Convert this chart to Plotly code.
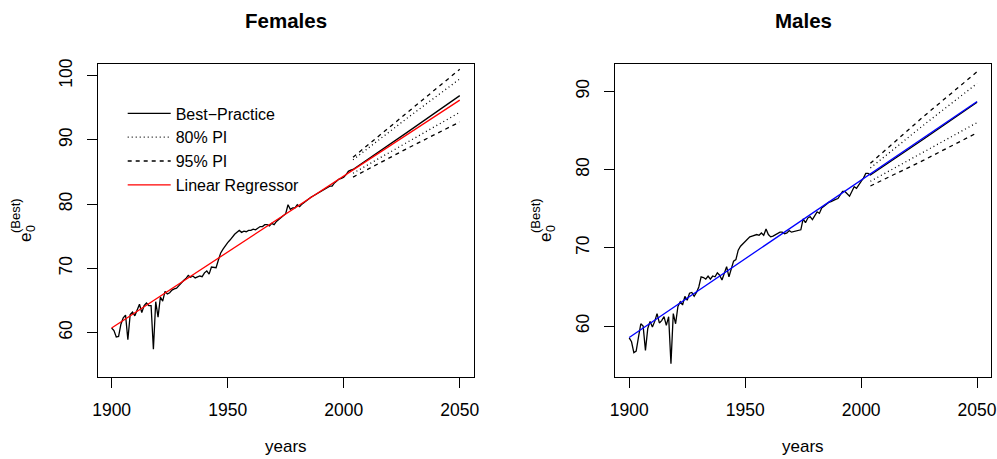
import plotly.graph_objects as go

# ---------------- data ----------------
years_hist = list(range(1900, 2004))

female_best = [
    60.7, 60.3, 59.3, 59.4, 61.3, 62.3, 62.7, 58.9, 62.8, 63.2,
    62.6, 63.5, 64.4, 63.1, 64.2, 64.6, 64.2, 64.2, 57.4, 64.8,
    62.4, 65.5, 64.9, 66.4, 66.0, 66.2, 66.6, 66.8, 66.9, 67.3,
    67.8, 68.1, 68.4, 68.9, 68.6, 68.8, 68.5, 68.6, 68.8, 68.7,
    69.3, 69.6, 69.1, 70.2, 70.1, 70.1, 71.3, 72.4, 73.0, 73.6,
    74.0, 74.4, 74.9, 75.3, 75.6, 75.9, 75.6, 75.8, 75.7, 75.9,
    75.9, 76.1, 76.0, 76.3, 76.5, 76.5, 76.8, 76.8, 76.6, 77.0,
    76.8, 77.3, 77.6, 77.8, 78.1, 78.5, 79.9, 79.2, 79.4, 79.4,
    79.9, 79.6, 80.0, 80.3, 80.6, 80.8, 81.1, 81.3, 81.5, 81.8,
    81.9, 82.1, 82.3, 82.5, 82.8, 82.8, 83.3, 83.6, 83.9, 84.0,
    84.2, 84.6, 85.1, 85.3,
]

male_best = [
    58.5, 58.0, 56.6, 56.8, 58.6, 60.3, 60.0, 56.9, 59.7, 60.6,
    59.9, 60.6, 61.6, 60.4, 60.7, 61.2, 60.1, 61.2, 55.2, 61.6,
    60.3, 62.5, 63.1, 62.7, 63.8, 63.3, 64.2, 64.3, 63.8, 64.3,
    65.0, 66.3, 66.2, 66.0, 66.4, 66.0, 66.4, 66.3, 66.8, 66.5,
    65.9, 66.9, 67.6, 66.3, 67.4, 68.3, 68.5, 69.7, 70.2, 70.5,
    70.9, 71.2, 71.4, 71.5, 71.6, 71.7, 71.6, 71.9, 71.6, 72.4,
    71.7, 71.4, 71.5, 71.7, 71.9, 72.0, 72.0, 71.8, 71.9, 72.2,
    72.0, 72.1, 72.2, 72.2, 72.3, 73.7, 73.2, 73.8, 74.0, 73.6,
    74.2, 74.6, 74.4, 75.1, 75.3, 75.6, 75.8, 75.9, 76.1, 76.2,
    76.3, 76.8, 77.2, 77.2, 76.9, 76.6, 77.2, 77.8, 77.6, 78.1,
    78.5, 78.9, 79.5, 79.5,
]

years_fc = [2004, 2027, 2050]
female_fc = [85.4, 91.1, 96.9]
female_pi80_up = [86.9, 93.3, 99.5]
female_pi80_lo = [84.8, 89.6, 94.3]
female_pi95_up = [87.3, 94.2, 101.0]
female_pi95_lo = [84.2, 88.6, 92.8]

male_fc = [79.3, 83.9, 88.6]
male_pi80_up = [80.2, 85.7, 91.0]
male_pi80_lo = [78.5, 82.3, 86.0]
male_pi95_up = [80.8, 86.8, 92.5]
male_pi95_lo = [77.9, 81.2, 84.7]

years_reg = [1900, 2050]
female_reg = [60.7, 96.2]
male_reg = [58.55, 88.7]

x_ticks = [1900, 1950, 2000, 2050]
female_y_ticks = [60, 70, 80, 90, 100]
male_y_ticks = [60, 70, 80, 90]

# ---------------- figure ----------------
W, H = 997, 459
FONT = "Liberation Sans, Arial, Helvetica, sans-serif"
DOT = "1px,3px"
DASH = "4px,4px"
LW = 1.3

fig = go.Figure()


def add_panel(xa, ya, best, fc, p80u, p80l, p95u, p95l, reg, regcol, show):
    fig.add_trace(go.Scatter(x=years_hist + years_fc, y=best + fc, mode="lines",
                             line=dict(color="black", width=LW),
                             name="Best\u2212Practice", showlegend=show,
                             xaxis=xa, yaxis=ya, hoverinfo="skip"))
    fig.add_trace(go.Scatter(x=years_fc, y=p80u, mode="lines",
                             line=dict(color="black", width=LW, dash=DOT),
                             name="80% PI", showlegend=show,
                             xaxis=xa, yaxis=ya, hoverinfo="skip"))
    fig.add_trace(go.Scatter(x=years_fc, y=p95u, mode="lines",
                             line=dict(color="black", width=LW, dash=DASH),
                             name="95% PI", showlegend=show,
                             xaxis=xa, yaxis=ya, hoverinfo="skip"))
    fig.add_trace(go.Scatter(x=years_fc, y=p80l, mode="lines",
                             line=dict(color="black", width=LW, dash=DOT),
                             showlegend=False,
                             xaxis=xa, yaxis=ya, hoverinfo="skip"))
    fig.add_trace(go.Scatter(x=years_fc, y=p95l, mode="lines",
                             line=dict(color="black", width=LW, dash=DASH),
                             showlegend=False,
                             xaxis=xa, yaxis=ya, hoverinfo="skip"))
    fig.add_trace(go.Scatter(x=years_reg, y=reg, mode="lines",
                             line=dict(color=regcol, width=LW),
                             name="Linear Regressor", showlegend=show,
                             xaxis=xa, yaxis=ya, hoverinfo="skip"))


add_panel("x", "y", female_best, female_fc, female_pi80_up, female_pi80_lo,
          female_pi95_up, female_pi95_lo, female_reg, "#FF0000", True)
add_panel("x2", "y2", male_best, male_fc, male_pi80_up, male_pi80_lo,
          male_pi95_up, male_pi95_lo, male_reg, "#0000FF", False)

# panel boxes in pixels
L1, R1 = 97.7, 473.7
L2, R2 = 615.3, 991.0
TOP, BOT = 63.5, 376.5

ydom = [1 - BOT / H, 1 - TOP / H]

axis_common = dict(showgrid=False, zeroline=False, showline=True, mirror=True,
                   linecolor="black", linewidth=1, ticks="outside", ticklen=10,
                   tickwidth=1, tickcolor="black", automargin=False,
                   tickfont=dict(family=FONT, size=17.5, color="black"))

fig.update_layout(
    width=W, height=H,
    margin=dict(l=0, r=0, t=0, b=0, autoexpand=False),
    paper_bgcolor="white", plot_bgcolor="white",
    xaxis=dict(domain=[L1 / W, R1 / W], range=[1894, 2056], tickvals=x_ticks,
               ticklabelstandoff=7, anchor="y", **axis_common),
    yaxis=dict(domain=ydom, range=[53.15, 101.9], tickvals=female_y_ticks,
               tickangle=-90, ticklabelstandoff=8, anchor="x", **axis_common),
    xaxis2=dict(domain=[L2 / W, R2 / W], range=[1894, 2056], tickvals=x_ticks,
                ticklabelstandoff=7, anchor="y2", **axis_common),
    yaxis2=dict(domain=ydom, range=[53.56, 93.55], tickvals=male_y_ticks,
                tickangle=-90, ticklabelstandoff=8, anchor="x2", **axis_common),
    legend=dict(x=122.7 / W, y=1 - 96.5 / H, xanchor="left", yanchor="top",
                bgcolor="rgba(0,0,0,0)", borderwidth=0,
                font=dict(family=FONT, size=16, color="black"),
                tracegroupgap=0, itemwidth=43),
    showlegend=True,
)

ann = []
for (l, r, title, ex) in [(L1, R1, "Females", 25), (L2, R2, "Males", 545)]:
    cx = (l + r) / 2 / W
    ann.append(dict(text="<b>%s</b>" % title, x=cx, y=1 - 21 / H, xref="paper", yref="paper",
                    xanchor="center", yanchor="middle", showarrow=False,
                    font=dict(family=FONT, size=20.5, color="black")))
    ann.append(dict(text="years", x=cx, y=1 - 446 / H, xref="paper", yref="paper",
                    xanchor="center", yanchor="middle", showarrow=False,
                    font=dict(family=FONT, size=17, color="black")))
    ann.append(dict(text="e", x=ex / W, y=1 - 238 / H, xref="paper", yref="paper",
                    xanchor="center", yanchor="middle", showarrow=False, textangle=-90,
                    font=dict(family=FONT, size=17, color="black")))
    ann.append(dict(text="0", x=(ex + 6) / W, y=1 - 229 / H, xref="paper", yref="paper",
                    xanchor="center", yanchor="middle", showarrow=False, textangle=-90,
                    font=dict(family=FONT, size=12.5, color="black")))
    ann.append(dict(text="(Best)", x=(ex - 10) / W, y=1 - 216 / H, xref="paper", yref="paper",
                    xanchor="center", yanchor="middle", showarrow=False, textangle=-90,
                    font=dict(family=FONT, size=13, color="black")))
fig.update_layout(annotations=ann)

fig.write_html("out.html",
               config={"displayModeBar": False},
               post_script="document.body.style.margin='0';document.body.style.overflow='hidden';")
